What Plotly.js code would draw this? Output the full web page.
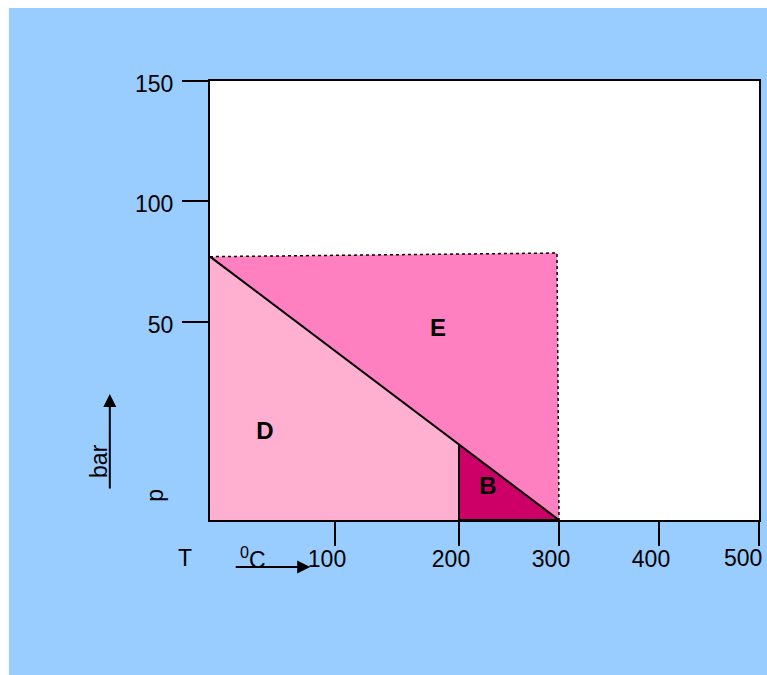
<!DOCTYPE html>
<html>
<head>
<meta charset="utf-8">
<script src="https://cdn.plot.ly/plotly-3.0.1.min.js"></script>
<style>
    html, body { margin: 0; padding: 0; background: #ffffff; }
    #chart { position: absolute; left: 9px; top: 8px; width: 758px; height: 667px; }
</style>
</head>
<body>
<div id="chart"></div>
<script>
// phase regions, T in °C and p in bar
const regionD_T = [0, 0, 200, 200];
const regionD_p = [77, 0, 0, 19];
const regionE_T = [0, 298, 300];
const regionE_p = [77, 78.5, 0];
const regionB_T = [200, 200, 300];
const regionB_p = [19, 0, 0];
const boundaryT = [0, 200, 300];
const boundaryP = [77, 19, 0];

const regionNames = ['D', 'E', 'B'];
const regionLabelT = [44, 183, 229];
const regionLabelP = [22, 48, 8];

const xTickValues = [100, 200, 300, 400, 500];
const yTickValues = [50, 100, 150];

// the drawing does not use an even scale: each step gets its own width
const xSteps = [0, 100, 200, 300, 400, 500];
const xStepPos = [0, 125, 249, 349, 449, 549];
const ySteps = [0, 50, 100, 150];
const yStepPos = [0, 198, 319, 439];

function warp(v, steps, pos) {
    for (let i = 1; i < steps.length; i++) {
        if (v <= steps[i] || i === steps.length - 1) {
            const f = (v - steps[i - 1]) / (steps[i] - steps[i - 1]);
            return pos[i - 1] + f * (pos[i] - pos[i - 1]);
        }
    }
}
const sx = (arr) => arr.map((v) => warp(v, xSteps, xStepPos));
const sy = (arr) => arr.map((v) => warp(v, ySteps, yStepPos));

const traceD = {
    x: sx(regionD_T), y: sy(regionD_p),
    type: 'scatter', mode: 'lines', fill: 'toself',
    fillcolor: '#ffb0d0', line: {width: 0}, hoverinfo: 'skip'
};
const traceE = {
    x: sx(regionE_T), y: sy(regionE_p),
    type: 'scatter', mode: 'lines', fill: 'toself',
    fillcolor: '#ff80c0', line: {color: '#000000', width: 1.5, dash: 'dot'}, hoverinfo: 'skip'
};
const traceB = {
    x: sx(regionB_T), y: sy(regionB_p),
    type: 'scatter', mode: 'lines', fill: 'toself',
    fillcolor: '#cc0066', line: {color: '#000000', width: 2}, hoverinfo: 'skip'
};
const traceLine = {
    x: sx(boundaryT), y: sy(boundaryP),
    type: 'scatter', mode: 'lines',
    line: {color: '#000000', width: 2}, hoverinfo: 'skip'
};
const traceNames = {
    x: sx(regionLabelT), y: sy(regionLabelP), text: regionNames,
    type: 'scatter', mode: 'text',
    textfont: {family: 'Liberation Sans', size: 24, color: '#000000', weight: 'bold'},
    hoverinfo: 'skip'
};

const axisFont = {family: 'Liberation Sans', size: 23, color: '#000000'};

function note(x, y, text, angle) {
    return {xref: 'paper', yref: 'paper', x: x, y: y, text: text, textangle: angle || 0,
        xanchor: 'center', yanchor: 'middle', showarrow: false, font: axisFont};
}

// the last x label sits against the right edge, so it is drawn right-aligned
const lastX = xTickValues.length - 1;
const xTickText = xTickValues.map((v, i) => (i === lastX ? '' : String(v)));

const layout = {
    width: 758,
    height: 667,
    margin: {l: 201, r: 8, t: 73, b: 155},
    paper_bgcolor: '#99ccff',
    plot_bgcolor: '#ffffff',
    showlegend: false,
    xaxis: {
        range: [0, 549],
        tickvals: sx(xTickValues),
        ticktext: xTickText,
        ticks: 'outside', ticklen: 24, tickwidth: 2, tickcolor: '#000000',
        showline: true, linecolor: '#000000', linewidth: 2, mirror: true,
        showgrid: false, zeroline: false,
        tickfont: axisFont, ticklabelshift: -8, ticklabelstandoff: -7,
        fixedrange: true
    },
    yaxis: {
        range: [0, 439],
        tickvals: sy(yTickValues),
        ticktext: yTickValues.map(String),
        ticks: 'outside', ticklen: 26, tickwidth: 2, tickcolor: '#000000',
        showline: true, linecolor: '#000000', linewidth: 2, mirror: true,
        showgrid: false, zeroline: false,
        tickfont: axisFont, ticklabelshift: 3, ticklabelstandoff: 4,
        ticklabeloverflow: 'allow',
        fixedrange: true
    },
    annotations: [
        {xref: 'x', yref: 'paper', x: sx([xTickValues[lastX]])[0], y: -0.0866,
            text: String(xTickValues[lastX]), xanchor: 'right', yanchor: 'middle', xshift: 5,
            showarrow: false, font: axisFont},
        note(-0.0456, -0.0866, 'T'),
        note(0.078, -0.0866, '<sup>0</sup>C'),
        note(-0.1004, 0.057, 'p', -90),
        note(-0.2026, 0.134, 'bar', -90),
        {xref: 'paper', yref: 'paper', x: -0.1825, y: 0.287, text: '',
            showarrow: true, ax: 0, ay: 96, arrowhead: 2, arrowsize: 1.3, arrowwidth: 2, arrowcolor: '#000000'},
        {xref: 'paper', yref: 'paper', x: 0.1825, y: -0.107, text: '',
            showarrow: true, ax: -76, ay: 0, arrowhead: 2, arrowsize: 1.3, arrowwidth: 2, arrowcolor: '#000000'}
    ]
};

Plotly.newPlot('chart', [traceD, traceE, traceB, traceLine, traceNames], layout, {displayModeBar: false, staticPlot: true});
</script>
</body>
</html>
